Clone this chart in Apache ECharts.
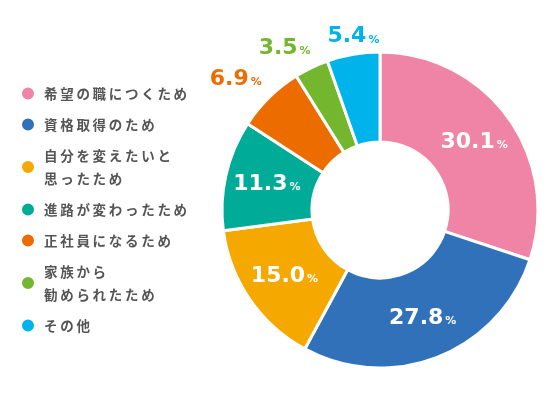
<!DOCTYPE html>
<html>
<head>
<meta charset="utf-8">
<script src="https://cdn.jsdelivr.net/npm/echarts@6/dist/echarts.min.js"></script>
<style>
  html, body { margin: 0; padding: 0; background: #fff; }
  #chart { width: 560px; height: 420px; }
</style>
</head>
<body>
<div id="chart"></div>
<script>
var reasons = ['希望の職につくため', '資格取得のため', '自分を変えたいと\n思ったため', '進路が変わったため', '正社員になるため', '家族から\n勧められたため', 'その他'];
var shares = [30.1, 27.8, 15.0, 11.3, 6.9, 3.5, 5.4];
var colors = ['#ef84a6', '#3071b9', '#f5a800', '#00ac97', '#ec6c00', '#74b72f', '#00b3ea'];
// small slices get their label outside the ring, in the slice colour
var outsideOffset = [null, null, null, null, [-63, -48], [-45, -57], [-7, -59]];

(function () {
    var chart = echarts.init(document.getElementById('chart'));
    var numFont = '"DejaVu Sans", sans-serif';

    var data = shares.map(function (v, i) {
        var item = { value: v, name: reasons[i], itemStyle: { color: colors[i] } };
        if (outsideOffset[i]) {
            item.label = {
                offset: outsideOffset[i],
                rich: {
                    n: { color: colors[i], fontSize: 22, fontWeight: 'bold', fontFamily: numFont },
                    p: { color: colors[i], fontSize: 11, fontWeight: 'bold', fontFamily: numFont, padding: [6, 0, 0, 2] }
                }
            };
        }
        return item;
    });

    var option = {
        animation: false,
        legend: {
            orient: 'vertical',
            left: 20,
            top: 82,
            padding: 0,
            icon: 'circle',
            itemWidth: 14,
            itemHeight: 14,
            itemGap: 8,
            selectedMode: false,
            data: reasons,
            formatter: function (name) {
                return name.split('\n').map(function (l) {
                    return Array.from(l).join('\u2009');
                }).join('\n');
            },
            textStyle: {
                fontFamily: '"Noto Sans CJK JP", sans-serif',
                fontSize: 13.5,
                fontWeight: 'bold',
                color: '#555',
                lineHeight: 23,
                padding: [0, 0, 0, 4]
            }
        },
        series: [{
            type: 'pie',
            center: [380, 210],
            radius: [68, 158],
            startAngle: 90,
            clockwise: true,
            silent: true,
            avoidLabelOverlap: false,
            itemStyle: { borderColor: '#fff', borderWidth: 3 },
            label: {
                show: true,
                position: 'inside',
                formatter: function (p) {
                    return '{n|' + p.value.toFixed(1) + '}{p|%}';
                },
                rich: {
                    n: { color: '#fff', fontSize: 22, fontWeight: 'bold', fontFamily: numFont },
                    p: { color: '#fff', fontSize: 11, fontWeight: 'bold', fontFamily: numFont, padding: [6, 0, 0, 2] }
                }
            },
            labelLine: { show: false },
            data: data
        }]
    };
    chart.setOption(option);
}());
</script>
</body>
</html>
